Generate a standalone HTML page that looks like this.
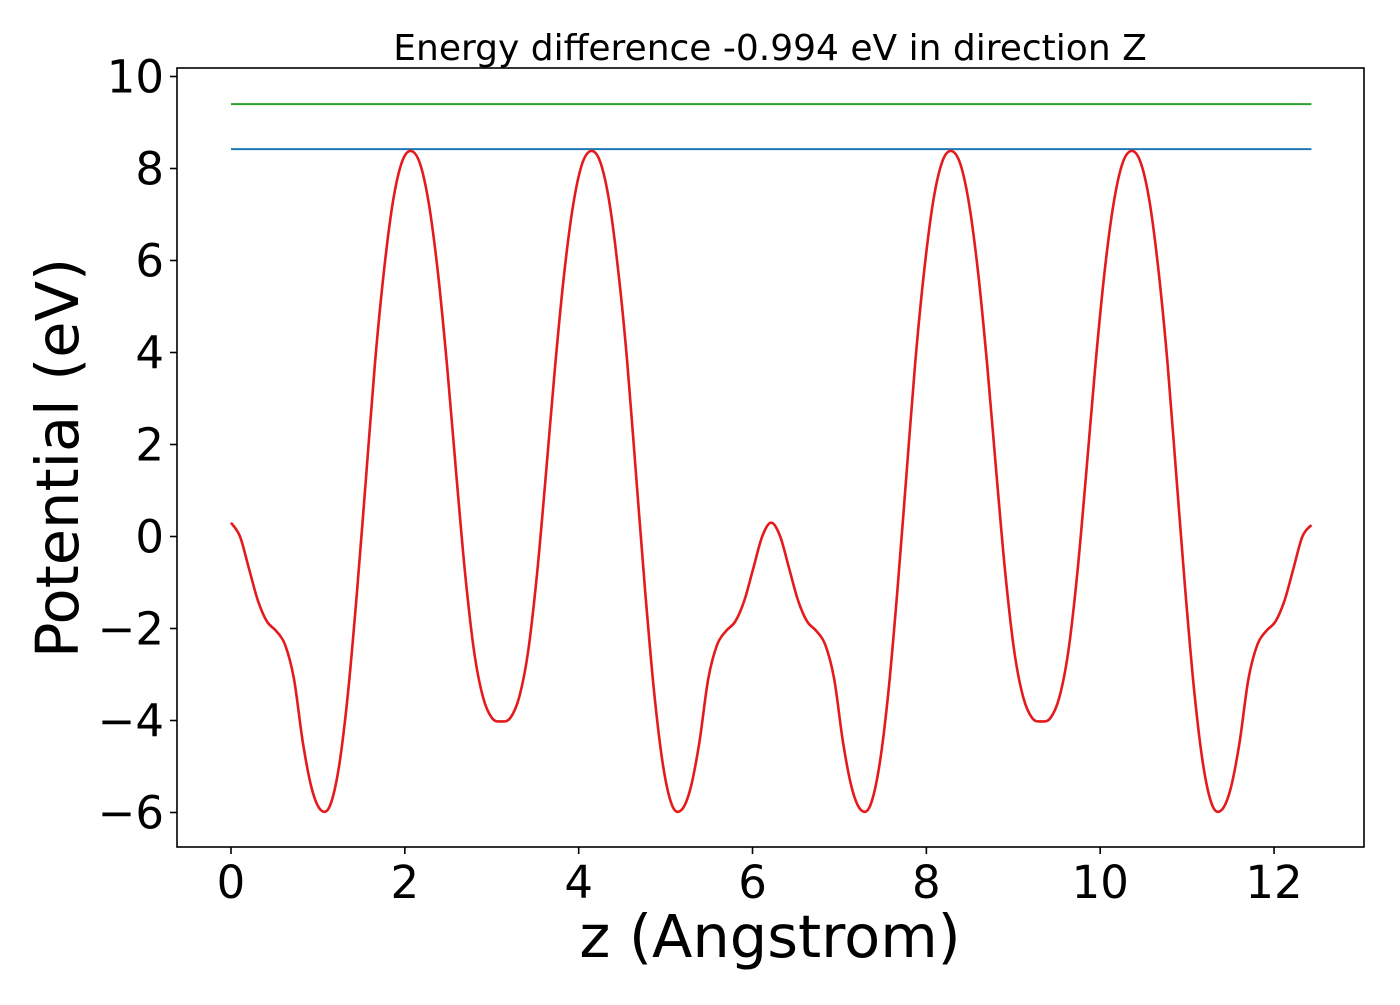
<!DOCTYPE html>
<html><head><meta charset="utf-8"><style>
body{margin:0;background:#fff}
svg text{font-family:"DejaVu Sans","Liberation Sans",sans-serif;fill:#000}
</style></head><body>
<svg id="chart" width="1400" height="1000" xmlns="http://www.w3.org/2000/svg">
<rect width="1400" height="1000" fill="#fff"/>
<g id="plot"></g>
</svg>
<script>
const xTicks=[0,2,4,6,8,10,12];
const yTicks=[-6,-4,-2,0,2,4,6,8,10];
const zStep=12.43/120;
const potential=[0.3,0.0,-0.7,-1.4,-1.85,-2.05,-2.35,-3.1,-4.5,-5.5,-5.95,-5.85,-5.0,-3.4,-1.2,1.3,3.8,5.8,7.3,8.15,8.38,
8.1,7.2,5.7,3.7,1.4,-0.8,-2.5,-3.5,-3.95,-4.02,
-3.95,-3.5,-2.5,-0.8,1.4,3.7,5.7,7.2,8.1,8.38,
8.15,7.3,5.8,3.8,1.3,-1.2,-3.4,-5.0,-5.85,-5.95,-5.5,-4.5,-3.1,-2.35,-2.05,-1.85,-1.4,-0.7,0.0,0.3,
0.0,-0.7,-1.4,-1.85,-2.05,-2.35,-3.1,-4.5,-5.5,-5.95,-5.85,-5.0,-3.4,-1.2,1.3,3.8,5.8,7.3,8.15,8.38,
8.1,7.2,5.7,3.7,1.4,-0.8,-2.5,-3.5,-3.95,-4.02,
-3.95,-3.5,-2.5,-0.8,1.4,3.7,5.7,7.2,8.1,8.38,
8.15,7.3,5.8,3.8,1.3,-1.2,-3.4,-5.0,-5.85,-5.95,-5.5,-4.5,-3.1,-2.35,-2.05,-1.85,-1.4,-0.7,0.0,0.25];
const levelValues=[8.42,9.4];
const levelColors=['#1f77b4','#2ca02c'];
const levelRange=[0,12.43];

const L=177,R=1364,T=68,B=847;
const sx=v=>231+v*86.92;
const sy=v=>536.5-v*46;
const g=document.getElementById('plot');
const NS='http://www.w3.org/2000/svg';
function mk(t,a){const e=document.createElementNS(NS,t);for(const k in a)e.setAttribute(k,a[k]);g.appendChild(e);return e;}

levelValues.forEach((v,i)=>{
 const l=mk('line',{x1:sx(levelRange[0]),x2:sx(levelRange[1]),y1:sy(v),y2:sy(v),stroke:levelColors[i],'stroke-width':2});
 
 
});
const pts=potential.map((v,i)=>[sx(i*zStep),sy(v)]);
let d='M'+pts[0][0].toFixed(1)+','+pts[0][1].toFixed(1);
for(let i=0;i<pts.length-1;i++){
 const p0=pts[Math.max(i-1,0)],p1=pts[i],p2=pts[i+1],p3=pts[Math.min(i+2,pts.length-1)];
 const c1=[p1[0]+(p2[0]-p0[0])/6,p1[1]+(p2[1]-p0[1])/6];
 const c2=[p2[0]-(p3[0]-p1[0])/6,p2[1]-(p3[1]-p1[1])/6];
 d+='C'+c1[0].toFixed(1)+','+c1[1].toFixed(1)+' '+c2[0].toFixed(1)+','+c2[1].toFixed(1)+' '+p2[0].toFixed(1)+','+p2[1].toFixed(1);
}
const p=mk('path',{d:d,fill:'none',stroke:'#e41a1c','stroke-width':2.6});



const fr=mk('rect',{x:L,y:T,width:R-L,height:B-T,fill:'none',stroke:'#000','stroke-width':1.6});



xTicks.forEach(v=>{
 mk('line',{x1:sx(v),x2:sx(v),y1:B,y2:B+7,stroke:'#000','stroke-width':1.6});
 const t=mk('text',{x:sx(v),y:B+51,'text-anchor':'middle','font-size':45});
 t.textContent=v;
 
 
});
yTicks.forEach(v=>{
 mk('line',{x1:L-7,x2:L,y1:sy(v),y2:sy(v),stroke:'#000','stroke-width':1.6});
 const t=mk('text',{x:L-13,y:sy(v)+16,'text-anchor':'end','font-size':45});
 t.textContent=v<0?'\u2212'+(-v):v;
 
 
});
const xt=mk('text',{x:770,y:957,'text-anchor':'middle','font-size':59});
xt.textContent='z (Angstrom)';


const yt=mk('text',{x:0,y:0,'text-anchor':'middle','font-size':59,transform:'translate(78,458) rotate(-90)'});
yt.textContent='Potential (eV)';


const tt=mk('text',{x:770,y:60,'text-anchor':'middle','font-size':36});
tt.textContent='Energy difference -0.994 eV in direction Z';


</script>
</body></html>
